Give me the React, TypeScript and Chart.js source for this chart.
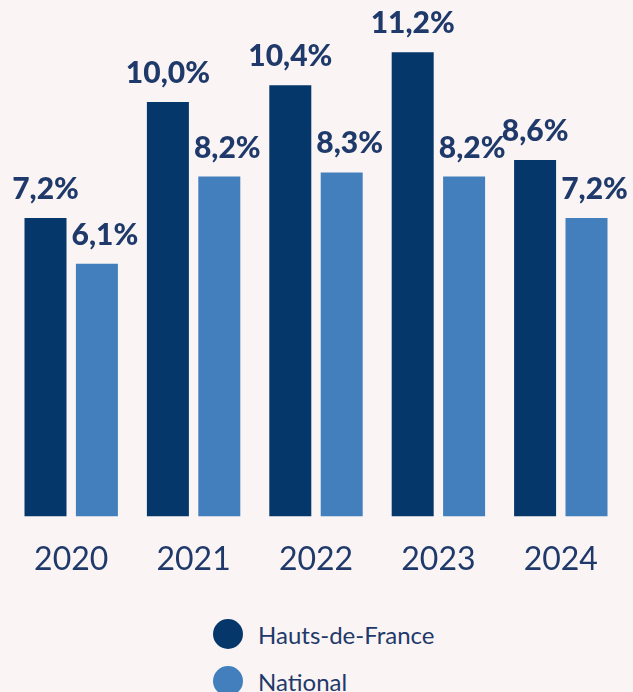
import React, { useEffect, useRef } from 'react';
import { Chart, registerables } from 'chart.js';

Chart.register(...registerables);

const years = ['2020', '2021', '2022', '2023', '2024'];
const hautsDeFrance = [7.2, 10.0, 10.4, 11.2, 8.6];
const national = [6.1, 8.2, 8.3, 8.2, 7.2];
const seriesNames = ['Hauts-de-France', 'National'];
const seriesColors = ['#06376B', '#437FBC'];
const textColor = '#1F3A6A';
const bgColor = '#FAF4F4';
const labelFont = 'Lato';

const valueLabels = {
  id: 'valueLabels',
  afterDatasetsDraw(chart: any) {
    const ctx = chart.ctx;
    ctx.save();
    ctx.font = `900 30px ${labelFont}`;
    ctx.fillStyle = textColor;
    ctx.textAlign = 'center';
    ctx.textBaseline = 'alphabetic';
    chart.data.datasets.forEach((ds: any, di: number) => {
      const meta = chart.getDatasetMeta(di);
      meta.data.forEach((el: any, i: number) => {
        const v = ds.data[i] as number;
        const text = v.toFixed(1).replace('.', ',') + '%';
        ctx.fillText(text, el.x + (di === 1 ? 8 : 0), el.y - 19);
      });
    });
    ctx.restore();
  },
};

export default function App() {
  const ref = useRef<HTMLCanvasElement | null>(null);

  useEffect(() => {
    document.body.style.margin = '0';
    document.body.style.background = bgColor;
    document.documentElement.style.background = bgColor;
    if (!ref.current) return;
    const chart = new Chart(ref.current, {
      type: 'bar',
      data: {
        labels: years,
        datasets: [
          {
            label: seriesNames[0],
            data: hautsDeFrance,
            backgroundColor: seriesColors[0],
            barPercentage: 0.817,
            categoryPercentage: 0.84,
          },
          {
            label: seriesNames[1],
            data: national,
            backgroundColor: seriesColors[1],
            barPercentage: 0.817,
            categoryPercentage: 0.84,
          },
        ],
      },
      options: {
        animation: false,
        responsive: true,
        maintainAspectRatio: false,
        layout: { padding: { left: 10, right: 11, top: 19, bottom: 0 } },
        plugins: {
          legend: { display: false },
          tooltip: { enabled: false },
        },
        scales: {
          x: {
            grid: { display: false, drawTicks: false },
            border: { display: false },
            ticks: {
              color: textColor,
              font: { family: labelFont, size: 32, weight: 'normal' },
              padding: 24,
            },
          },
          y: {
            display: false,
            min: 0,
            max: 12,
          },
        },
      },
      plugins: [valueLabels],
    });
    return () => chart.destroy();
  }, []);

  return (
    <div style={{ width: 633, background: bgColor, fontFamily: labelFont }}>
      <div style={{ position: 'relative', width: 633, height: 603 }}>
        <canvas ref={ref} />
      </div>
      <div style={{ marginTop: 16, marginLeft: 213, display: 'flex', flexDirection: 'column', gap: 17 }}>
        {seriesNames.map((name, i) => (
          <div key={name} style={{ display: 'flex', alignItems: 'center', height: 30 }}>
            <span
              style={{
                display: 'inline-block',
                width: 30,
                height: 30,
                borderRadius: '50%',
                background: seriesColors[i],
                marginRight: 15,
              }}
            />
            <span style={{ color: textColor, fontSize: 24 }}>{name}</span>
          </div>
        ))}
      </div>
    </div>
  );
}
